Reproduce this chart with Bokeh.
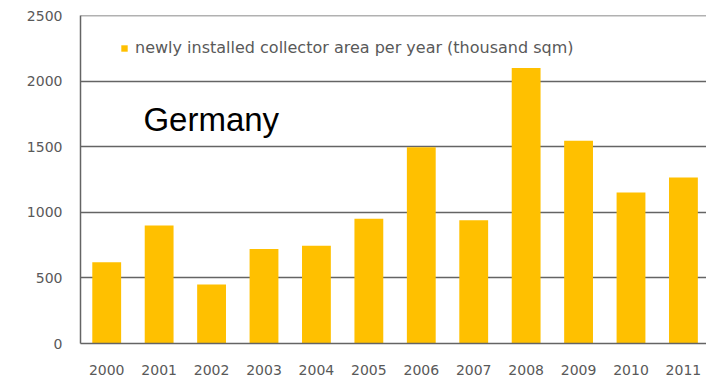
from bokeh.plotting import figure
from bokeh.models import Range1d, FixedTicker, Label, Legend, LegendItem, Span
from bokeh.embed import file_html
from bokeh.resources import INLINE

years = ["2000", "2001", "2002", "2003", "2004", "2005",
         "2006", "2007", "2008", "2009", "2010", "2011"]
area = [620, 900, 450, 720, 745, 950, 1495, 940, 2100, 1545, 1150, 1265]
y_ticks = [0, 500, 1000, 1500, 2000, 2500]
series_name = "newly installed collector area per year (thousand sqm)"
country = "Germany"

xs = list(range(len(years)))
GOLD = "#FFC000"
GRID = "#646464"
TXT = "#595959"

p = figure(width=706, height=379, output_backend="svg", toolbar_location=None,
           x_range=Range1d(-0.5, 11.44), y_range=Range1d(0, 2500),
           min_border_left=80, min_border_right=0, min_border_top=15,
           min_border_bottom=36)
p.outline_line_color = None
p.background_fill_color = "white"

r = p.vbar(x=xs, top=area, width=0.55, bottom=0, fill_color=GOLD, line_color=None)

p.xaxis.ticker = FixedTicker(ticks=xs)
p.xaxis.major_label_overrides = {i: y for i, y in enumerate(years)}
p.xaxis.axis_line_color = GRID
p.xaxis.axis_line_width = 1.5
p.xaxis.major_tick_line_color = None
p.xaxis.minor_tick_line_color = None
p.xaxis.major_label_standoff = 15
p.xaxis.major_label_text_font = "DejaVu Sans"
p.xaxis.major_label_text_font_size = "14px"
p.xaxis.major_label_text_color = TXT
p.xgrid.grid_line_color = None

p.yaxis.ticker = FixedTicker(ticks=y_ticks)
p.yaxis.axis_line_color = GRID
p.yaxis.axis_line_width = 1.5
p.yaxis.major_tick_line_color = None
p.yaxis.minor_tick_line_color = None
p.yaxis.major_label_standoff = 12
p.yaxis.major_label_text_font = "DejaVu Sans"
p.yaxis.major_label_text_font_size = "14px"
p.yaxis.major_label_text_color = TXT
p.ygrid.grid_line_color = GRID
p.ygrid.grid_line_width = 1.5
p.ygrid.level = "underlay"

p.add_layout(Span(location=y_ticks[-1], dimension="width",
                  line_color=GRID, line_width=1.5))

legend = Legend(items=[LegendItem(label=series_name, renderers=[r])],
                location=(40, 286))
legend.border_line_color = None
legend.background_fill_alpha = 0
legend.padding = 0
legend.margin = 0
legend.spacing = 0
legend.glyph_width = 8
legend.glyph_height = 8
legend.label_height = 16
legend.label_standoff = 7
legend.label_text_font = "DejaVu Sans"
legend.label_text_font_size = "16px"
legend.label_text_color = TXT
p.add_layout(legend)

p.add_layout(Label(x=0.7, y=1705, text=country, text_font="Liberation Sans",
                   text_font_size="33px", text_color="black",
                   text_baseline="alphabetic"))

open("out.html", "w").write(file_html(p, INLINE))
